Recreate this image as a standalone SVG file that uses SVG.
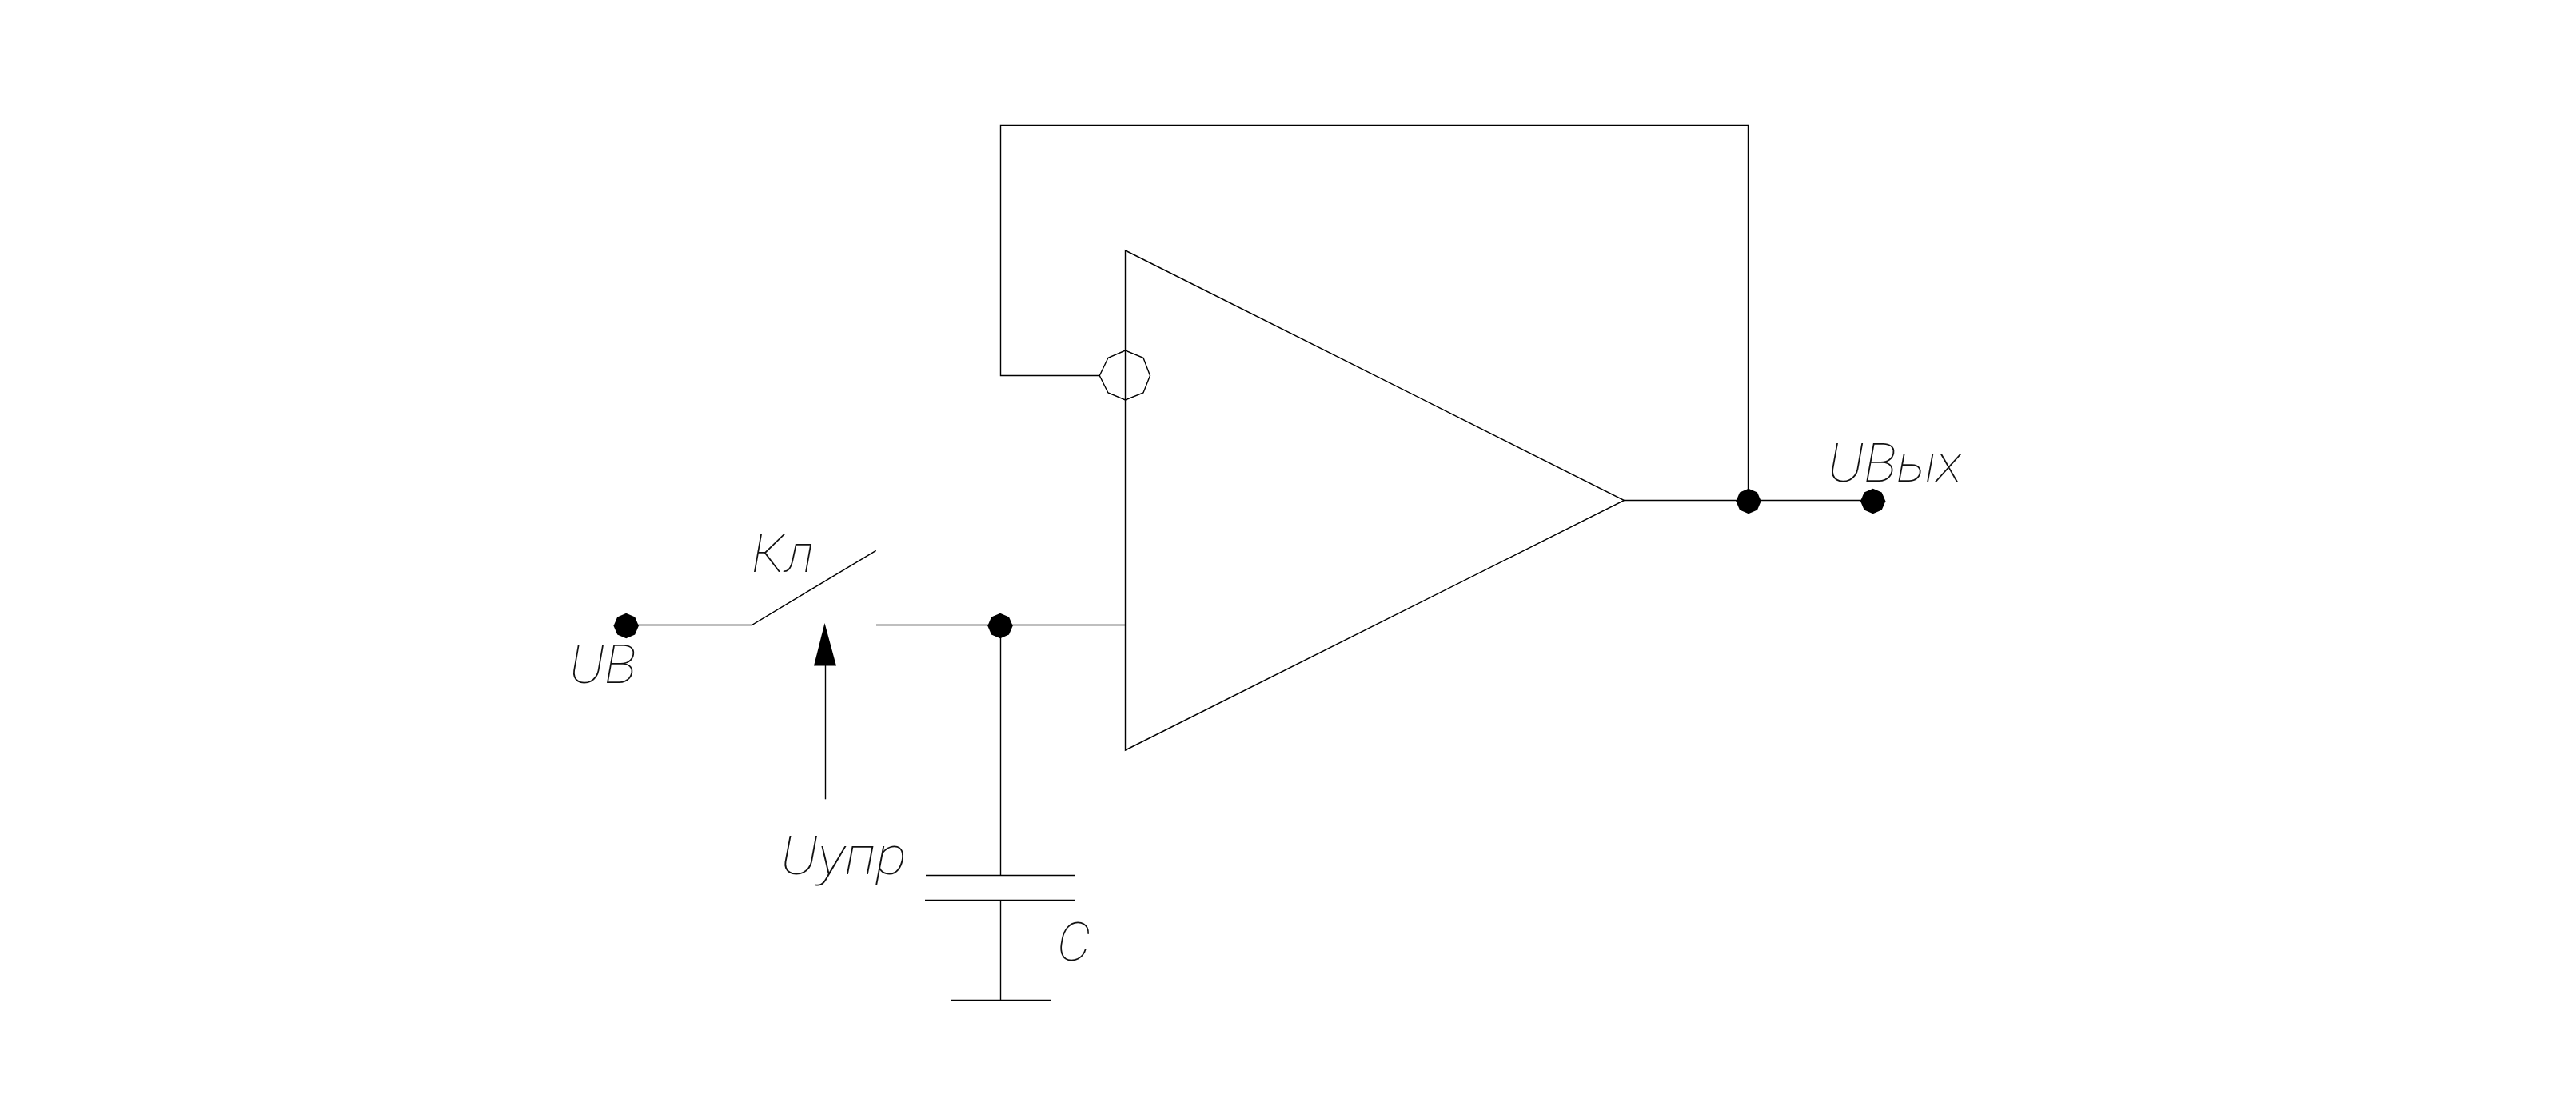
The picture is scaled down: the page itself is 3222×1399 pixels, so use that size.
<svg xmlns="http://www.w3.org/2000/svg" width="3222" height="1399" viewBox="0 0 3222 1399">
<style>
.w{fill:none;stroke:#000;stroke-width:1.4}
.d{fill:#000;stroke:none}
.t{font-family:Roboto,"Liberation Sans",sans-serif;font-style:italic;font-weight:100;font-size:66px;fill:#111}
</style>
<defs>
<polygon id="dot" points="-15.7,0 -11,-11 0,-15.7 11,-11 15.7,0 11,11 0,15.7 -11,11"/>
</defs>
<rect width="3222" height="1399" fill="#fff"/>
<g id="connectors">
<polyline class="w" points="783,781.5 940.4,781.5 1095.7,688.3"/>
<polyline class="w" points="1096,781.5 1407.5,781.5"/>
<polyline class="w" points="1251.5,781.5 1251.5,1094.5"/>
<polyline class="w" points="1251.5,1125.5 1251.5,1250.5"/>
<polyline class="w" points="1375.3,469.5 1251.5,469.5 1251.5,156.5 2186.5,156.5 2186.5,625.5"/>
<polyline class="w" points="2031.5,625.5 2342.7,625.5"/>
<polyline class="w" points="1032.5,832 1032.5,999.3"/>
</g>
<g id="amplifier"><polygon class="w" points="1407.5,313 2031.5,625.5 1407.5,938"/></g>
<g id="inverting-input"><polygon class="w" points="1375.3,469.5 1386,447.3 1407.5,438 1430,447.3 1438.5,469.5 1430,491 1407.5,500 1386,491"/></g>
<g id="capacitor">
<line class="w" x1="1158" y1="1094.5" x2="1345" y2="1094.5"/>
<line class="w" x1="1157" y1="1125.5" x2="1344" y2="1125.5"/>
<line class="w" x1="1189" y1="1250.5" x2="1314" y2="1250.5"/>
</g>
<g id="control-arrow"><polygon class="d" points="1031.5,779 1046,832.5 1018,832.5"/></g>
<g id="node-in"><use class="d" href="#dot" x="783.2" y="782.5"/></g>
<g id="node-mid"><use class="d" href="#dot" x="1251" y="782.5"/></g>
<g id="node-fb"><use class="d" href="#dot" x="2187" y="626.5"/></g>
<g id="node-out"><use class="d" href="#dot" x="2342.7" y="626.5"/></g>
<g id="labels">
<text class="t" x="712" y="854" textLength="84" lengthAdjust="spacingAndGlyphs">UВ</text>
<text class="t" x="940" y="715" textLength="78" lengthAdjust="spacingAndGlyphs">Кл</text>
<text class="t" x="2286" y="602" textLength="168" lengthAdjust="spacingAndGlyphs">UВых</text>
<text class="t" x="976" y="1093" textLength="158" lengthAdjust="spacingAndGlyphs">Uупр</text>
<text class="t" x="1322" y="1201" textLength="42" lengthAdjust="spacingAndGlyphs">С</text>
</g>
</svg>
